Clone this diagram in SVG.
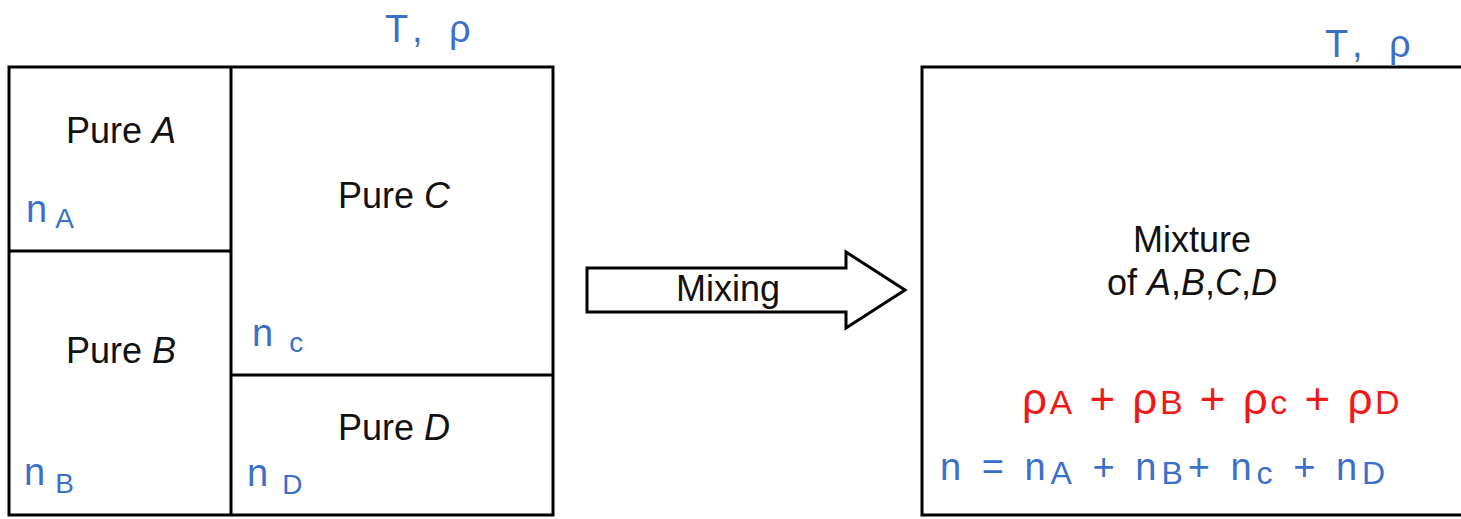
<svg xmlns="http://www.w3.org/2000/svg" width="1461" height="519" viewBox="0 0 1461 519">
<style>
.box{fill:#fff;stroke:#000;stroke-width:3}
.ln{stroke:#000;stroke-width:3;fill:none}
.lbl{font-family:"Liberation Sans",Arial,sans-serif;font-size:36px;fill:#111;text-anchor:middle}
.hb{font-family:"Liberation Sans",Arial,sans-serif;font-size:38px;fill:#3b6fca}
.hr{font-family:"Liberation Sans",Arial,sans-serif;font-size:44px;fill:#f01818;letter-spacing:2.5px}
.sub{font-size:28px}
</style>
<rect width="1461" height="519" fill="#fff"/>
<g id="left-container">
<rect class="box" x="9" y="67" width="544" height="448"/>
</g>
<g id="pure-a">
<text class="lbl" x="121" y="143">Pure <tspan font-style="italic">A</tspan></text>
<text class="hb" x="26" y="222">n<tspan class="sub" dx="8" dy="6">A</tspan></text>
</g>
<g id="pure-b">
<text class="lbl" x="121" y="363">Pure <tspan font-style="italic">B</tspan></text>
<text class="hb" x="24" y="485">n<tspan class="sub" dx="10" dy="8">B</tspan></text>
</g>
<g id="pure-c">
<text class="lbl" x="394" y="208">Pure <tspan font-style="italic">C</tspan></text>
<text class="hb" x="252" y="346">n<tspan class="sub" dx="16" dy="6">c</tspan></text>
</g>
<g id="pure-d">
<text class="lbl" x="394" y="440">Pure <tspan font-style="italic">D</tspan></text>
<text class="hb" x="247" y="486">n<tspan class="sub" dx="14" dy="8">D</tspan></text>
</g>
<g id="dividers">
<line class="ln" x1="231" y1="67" x2="231" y2="515"/>
<line class="ln" x1="9" y1="251" x2="231" y2="251"/>
<line class="ln" x1="231" y1="375" x2="553" y2="375"/>
</g>
<g id="left-conditions">
<text class="hb" x="385" y="42" font-size="42" letter-spacing="8">T, ρ</text>
</g>
<g id="connectors">
<g id="mixing-arrow">
<path d="M587,268 L846,268 L846,252 L905,290 L846,328 L846,312 L587,312 Z" fill="#fff" stroke="#000" stroke-width="3" stroke-linejoin="miter"/>
<text class="lbl" x="728" y="301">Mixing</text>
</g>
</g>
<g id="mixture">
<rect class="box" x="922" y="67" width="560" height="448"/>
<text class="lbl" x="1192" y="252">Mixture</text>
<text class="lbl" x="1192" y="295">of <tspan font-style="italic">A</tspan>,<tspan font-style="italic">B</tspan>,<tspan font-style="italic">C</tspan>,<tspan font-style="italic">D</tspan></text>
<text class="hb" x="1325" y="57" font-size="42" letter-spacing="8">T, ρ</text>
<text class="hr" x="1022" y="414">ρ<tspan font-size="34">A</tspan> + ρ<tspan font-size="34">B</tspan> + ρ<tspan font-size="34">c</tspan> + ρ<tspan font-size="34">D</tspan></text>
<text class="hb" x="940" y="480" font-size="42" letter-spacing="5">n = n<tspan font-size="32" dy="4">A</tspan><tspan dy="-4"> + n</tspan><tspan font-size="32" dy="4">B</tspan><tspan dy="-4">+ n</tspan><tspan font-size="32" dy="4">c</tspan><tspan dy="-4"> + n</tspan><tspan font-size="32" dy="4">D</tspan></text>
</g>
</svg>
